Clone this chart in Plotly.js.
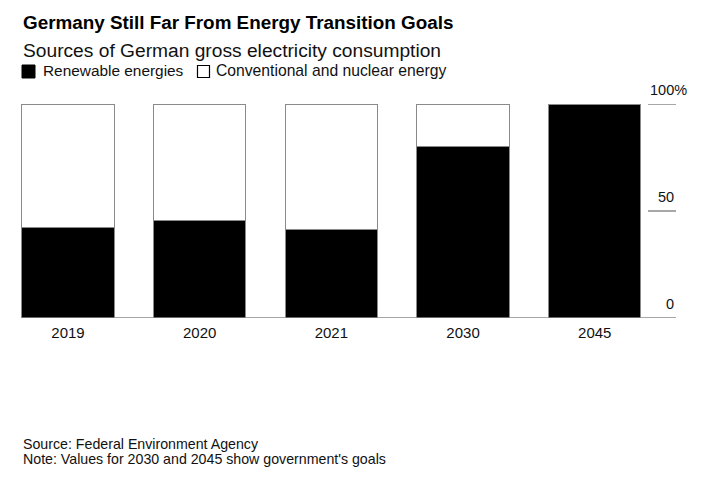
<!DOCTYPE html>
<html>
<head>
<meta charset="utf-8">
<script src="https://cdn.plot.ly/plotly-3.0.1.min.js"></script>
<style>html,body{margin:0;padding:0;background:#fff;}#chart{width:720px;height:477px;}</style>
</head>
<body>
<div id="chart"></div>
<script>
// ---- data ----
var years = ["2019", "2020", "2021", "2030", "2045"];
var renewable = [42.1, 45.6, 41.4, 80, 100];
var conventional = [57.9, 54.4, 58.6, 20, 0];
var seriesNames = ["Renewable energies", "Conventional and nuclear energy"];
var yTickValues = [0, 50, 100];
var yTickLabels = ["0", "50", "100%"];
var titleText = "Germany Still Far From Energy Transition Goals";
var subtitleText = "Sources of German gross electricity consumption";
var sourceText = "Source: Federal Environment Agency";
var noteText = "Note: Values for 2030 and 2045 show government's goals";

// ---- layout geometry (pixels) ----
var W = 720, H = 477;
var mL = 2, mR = 44, mT = 104, mB = 159;
var plotW = W - mL - mR, plotH = H - mT - mB;
function X(px) { return (px - mL) / plotW; }
function Y(py) { return (H - mB - py) / plotH; }

var FONT = "Liberation Sans, Arial, Helvetica, sans-serif";
var txt = "#111111";

var traces = [
  {type: "bar", x: years, y: renewable, name: seriesNames[0],
   marker: {color: "#000000", line: {color: "#8a8a8a", width: 1}}, hoverinfo: "skip"},
  {type: "bar", x: years, y: conventional, name: seriesNames[1],
   marker: {color: "#ffffff", line: {color: "#8a8a8a", width: 1}}, hoverinfo: "skip"}
];

var annotations = [
  {text: "<b>" + titleText + "</b>", xref: "paper", yref: "paper", x: X(21), y: Y(22.5),
   xanchor: "left", yanchor: "middle", showarrow: false, font: {family: FONT, size: 18.85, color: "#000"}},
  {text: subtitleText, xref: "paper", yref: "paper", x: X(21), y: Y(51),
   xanchor: "left", yanchor: "middle", showarrow: false, font: {family: FONT, size: 19.2, color: txt}},
  {text: seriesNames[0], xref: "paper", yref: "paper", x: X(41), y: Y(71),
   xanchor: "left", yanchor: "middle", showarrow: false, font: {family: FONT, size: 15.4, color: txt}},
  {text: seriesNames[1], xref: "paper", yref: "paper", x: X(214), y: Y(71),
   xanchor: "left", yanchor: "middle", showarrow: false, font: {family: FONT, size: 15.7, color: txt}},
  {text: sourceText, xref: "paper", yref: "paper", x: X(21), y: Y(443.5),
   xanchor: "left", yanchor: "middle", showarrow: false, font: {family: FONT, size: 14.2, color: txt}},
  {text: noteText, xref: "paper", yref: "paper", x: X(21), y: Y(458.5),
   xanchor: "left", yanchor: "middle", showarrow: false, font: {family: FONT, size: 14.2, color: txt}}
];

var shapes = [
  // legend swatches
  {type: "rect", xref: "paper", yref: "paper", x0: X(22), x1: X(35), y0: Y(65), y1: Y(78),
   fillcolor: "#000", line: {color: "#000", width: 1}},
  {type: "rect", xref: "paper", yref: "paper", x0: X(197.5), x1: X(209.5), y0: Y(65.5), y1: Y(77.5),
   fillcolor: "#fff", line: {color: "#000", width: 1.2}},
  // baseline
  {type: "line", xref: "paper", yref: "y", x0: X(21), x1: X(676), y0: 0, y1: 0,
   line: {color: "#8a8a8a", width: 1.5}}
];

yTickValues.forEach(function (v, i) {
  if (v !== 0) {
    shapes.push({type: "line", xref: "paper", yref: "y", x0: X(648), x1: X(676), y0: v, y1: v,
      line: {color: "#8a8a8a", width: 1.5}});
  }
  var lab = yTickLabels[i];
  var hasPct = lab.indexOf("%") >= 0;
  annotations.push({text: lab, xref: "paper", yref: "y", x: X(hasPct ? 689 : 676), y: v,
    xanchor: "right", yanchor: "middle", yshift: 14.5, showarrow: false,
    font: {family: FONT, size: 14.5, color: txt}});
});

var layout = {
  width: W, height: H,
  margin: {l: mL, r: mR, t: mT, b: mB, pad: 0},
  paper_bgcolor: "#fff", plot_bgcolor: "#fff",
  barmode: "stack", bargap: 0.3,
  showlegend: false,
  xaxis: {type: "category", range: [-0.501, 4.617], showgrid: false, zeroline: false, showline: false,
    ticks: "", tickfont: {family: FONT, size: 15, color: txt}, ticklabelstandoff: 4, fixedrange: true},
  yaxis: {range: [0, 100], showgrid: false, zeroline: false, showline: false, showticklabels: false,
    ticks: "", fixedrange: true},
  annotations: annotations,
  shapes: shapes
};

Plotly.newPlot("chart", traces, layout, {displayModeBar: false, staticPlot: true});
</script>
</body>
</html>
